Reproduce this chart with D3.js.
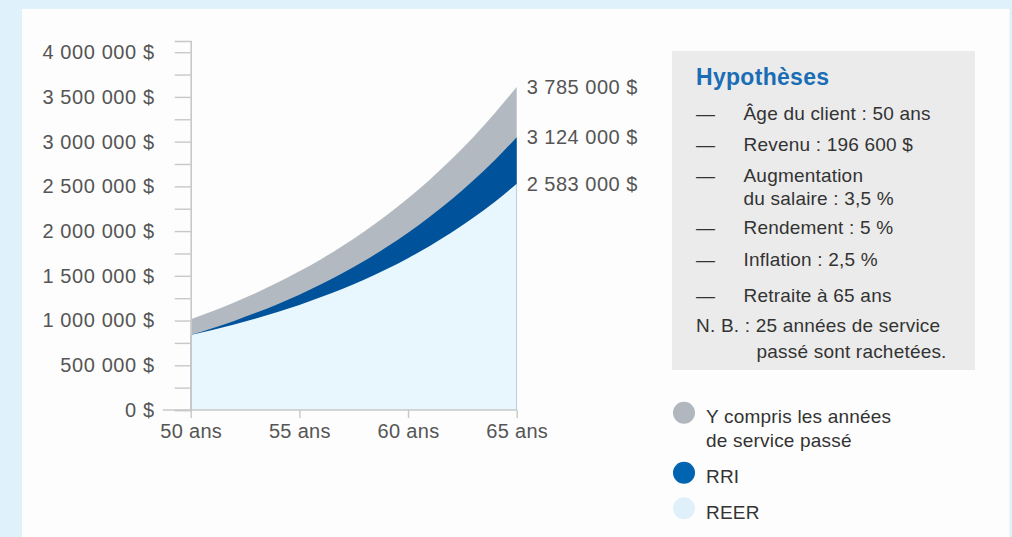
<!DOCTYPE html>
<html><head><meta charset="utf-8">
<script src="https://cdn.jsdelivr.net/npm/d3@7"></script>
<style>
html,body{margin:0;padding:0;background:#dff1fb;}
svg{display:block;font-family:"Liberation Sans",Arial,Helvetica,sans-serif;}
</style></head><body>
<svg id="c" width="1012" height="537"></svg>
<script>
// ---- data ----
const ages = [50,51,52,53,54,55,56,57,58,59,60,61,62,63,64,65];
const totalPast = [1015000,1105000,1202000,1308000,1424000,1550000,1686000,1835000,1997000,2174000,2366000,2575000,2802000,3049000,3319000,3612000];
const rri = [839000,914000,996000,1086000,1183000,1289000,1405000,1531000,1669000,1819000,1982000,2160000,2354000,2566000,2796000,3050000];
const reer = [839000,895000,956000,1023000,1096000,1175000,1262000,1356000,1460000,1573000,1697000,1834000,1983000,2148000,2329000,2529000];
const endLabels = ["3 785 000 $","3 124 000 $","2 583 000 $"];
const xTicks = [50,55,60,65];
const yTicks = [0,250000,500000,750000,1000000,1250000,1500000,1750000,2000000,2250000,2500000,2750000,3000000,3250000,3500000,3750000,4000000];
const seriesNames = ["Y compris les années|de service passé","RRI","REER"];
const hypTitle = "Hypothèses";
const hypItems = [["Âge du client : 50 ans"],["Revenu : 196 600 $"],["Augmentation","du salaire : 3,5 %"],["Rendement : 5 %"],["Inflation : 2,5 %"],["Retraite à 65 ans"]];
const nbLines = ["N. B. : 25 années de service","passé sont rachetées."];

const colors = ["#b3b9c0","#00539a","#e8f6fe"];
const legendColors = ["#b1b7be","#0064b0","#dff0fa"];

const svg = d3.select("#c");
svg.append("rect").attr("x",0).attr("y",0).attr("width",1012).attr("height",537).attr("fill","#dff1fb");
svg.append("rect").attr("x",22).attr("y",9).attr("width",987.5).attr("height",540).attr("fill","#fdfdfd");

const x = d3.scaleLinear().domain([50,65]).range([190.7,516.7]);
const y = d3.scaleLinear().domain([0,4125000]).range([410,41]);

const loc = d3.formatLocale({decimal:",",thousands:" ",grouping:[3],currency:[""," $"]});
const fmt = loc.format(",.0f");

const series = [totalPast, rri, reer];
const area = d3.area().x((d,i)=>x(ages[i])).y0(y(0)).y1(d=>y(d)).curve(d3.curveMonotoneX);
series.forEach((s,k)=>{
  svg.append("path").datum(s).attr("d",area).attr("fill",colors[k]);
});

// y axis
const yAxis = d3.axisLeft(y).tickValues(yTicks).tickSize(16).tickPadding(20)
  .tickFormat(d=> d%500000===0 ? fmt(d)+" $" : "");
const gy = svg.append("g").attr("transform",`translate(${x(50)},0)`).call(yAxis);
gy.select(".domain").attr("stroke","#c8c8c8").attr("stroke-width",1.6);
gy.selectAll(".tick line").attr("stroke","#c8c8c8").attr("stroke-width",1.4);
gy.selectAll(".tick text").attr("fill","#555").attr("font-size",20).attr("letter-spacing",0.6).attr("font-family","Liberation Sans, Arial, sans-serif");

// x axis
const xAxis = d3.axisBottom(x).tickValues(xTicks).tickSize(8).tickPadding(6).tickFormat(d=>d+" ans");
const gx = svg.append("g").attr("transform",`translate(0,${y(0)})`).call(xAxis);
gx.select(".domain").remove();
gx.append("line").attr("x1",x(50)-28).attr("x2",x(65)).attr("y1",0).attr("y2",0).attr("stroke","#c8c8c8").attr("stroke-width",1.6);
gx.selectAll(".tick line").attr("stroke","#c8c8c8").attr("stroke-width",1.4);
gx.selectAll(".tick text").attr("fill","#555").attr("font-size",20).attr("letter-spacing",0.3).attr("font-family","Liberation Sans, Arial, sans-serif");

// end labels
series.forEach((s,k)=>{
  svg.append("text").attr("x",x(65)+10).attr("y",y(s[s.length-1]))
    .attr("dominant-baseline","central").attr("fill","#555").attr("font-size",20).attr("letter-spacing",0.5).text(endLabels[k]);
});

// hypotheses box
svg.append("rect").attr("x",672).attr("y",51).attr("width",303).attr("height",319).attr("fill","#ebebeb");
svg.append("text").attr("x",696).attr("y",85).attr("fill","#1a6db5").attr("font-weight","bold").attr("font-size",23).attr("letter-spacing",0.3).text(hypTitle);
const baselines = [[120],[151],[181.7,205],[234.3],[266],[301.7]];
hypItems.forEach((lines,i)=>{
  svg.append("text").attr("x",696).attr("y",baselines[i][0]).attr("fill","#333").attr("font-size",19).text("—");
  lines.forEach((t,j)=>{
    svg.append("text").attr("x",743.5).attr("y",baselines[i][j]).attr("fill","#333").attr("font-size",19).attr("letter-spacing",0.2).text(t);
  });
});
svg.append("text").attr("x",696).attr("y",331.7).attr("fill","#333").attr("font-size",19).attr("letter-spacing",0.2).text(nbLines[0]);
svg.append("text").attr("x",756.5).attr("y",358.3).attr("fill","#333").attr("font-size",19).attr("letter-spacing",0.2).text(nbLines[1]);

// legend
const legY = [412.7,472.7,508.3];
seriesNames.forEach((name,k)=>{
  svg.append("circle").attr("cx",684).attr("cy",legY[k]).attr("r",11).attr("fill",legendColors[k]);
  name.split("|").forEach((t,j)=>{
    svg.append("text").attr("x",706).attr("y",legY[k]+10.6+j*23.4).attr("fill","#333").attr("font-size",19).attr("letter-spacing",0.2).text(t);
  });
});
</script>
</body></html>
